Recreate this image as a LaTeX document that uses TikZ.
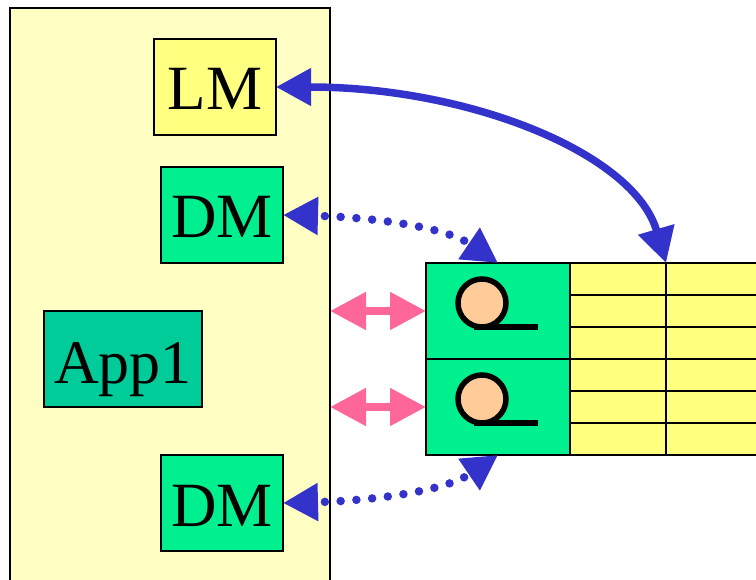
\documentclass[tikz,border=0pt]{standalone}
\usepackage{fontspec}
\setmainfont{Liberation Serif}
\usepackage{xcolor}
\usetikzlibrary{arrows.meta}
\definecolor{panelyellow}{HTML}{FFFFC4}
\definecolor{cellyellow}{HTML}{FFFF80}
\definecolor{dmgreen}{HTML}{00F090}
\definecolor{appgreen}{HTML}{00CC99}
\definecolor{arrowblue}{HTML}{3333CC}
\definecolor{arrowpink}{HTML}{FF6699}
\definecolor{spoolfill}{HTML}{FFCC99}
\tikzset{
	box/.style={draw=black, line width=1.5pt, inner sep=0pt, outer sep=0pt, text height=46pt, text depth=0pt, font=\fontsize{63}{63}\selectfont},
	managerbox/.style={box, minimum width=122pt, minimum height=96pt},
	cellbox/.style={box, fill=dmgreen, minimum width=144pt, minimum height=96pt},
	gridbox/.style={box, fill=cellyellow, minimum width=96pt, minimum height=192pt},
	bluetips/.style={{Triangle[length=35pt,width=36pt]}-{Triangle[length=35pt,width=36pt]}, arrowblue},
	dotlink/.style={bluetips, line width=8.5pt, line cap=round, dash pattern=on 0pt off 15.8pt, dash phase=6.8pt},
	solidlink/.style={bluetips, line width=7.5pt},
	pinklink/.style={{Triangle[length=36pt,width=36pt]}-{Triangle[length=36pt,width=36pt]}, arrowpink, line width=8pt},
	spool/.style={draw=black, line width=5.5pt, fill=spoolfill, outer sep=0pt},
}
\begin{document}
\begin{tikzpicture}[x=1pt, y=-1pt]
	\clip (0,0) rectangle (756,580);
	\node[box, fill=panelyellow, minimum width=320pt, minimum height=620pt] (panel) at (170,318) {};
	\node[managerbox, fill=cellyellow] (lm) at (215,87) {LM};
	\node[managerbox, fill=dmgreen] (dmtop) at (222,215) {DM};
	\node[box, fill=appgreen, minimum width=158pt, minimum height=96pt, text height=50pt, font=\fontsize{62}{62}\selectfont] (appone) at (123,359) {App1\hspace{4pt}};
	\node[managerbox, fill=dmgreen] (dmbot) at (222,503) {DM};
	% table on the right
	\node[cellbox] (cellone) at (498,311) {};
	\node[cellbox] (celltwo) at (498,407) {};
	\node[gridbox] (gridone) at (618,359) {};
	\node[gridbox, minimum width=110pt] (gridtwo) at (721,359) {};
	\foreach \y in {295,327,359,391,423} {
		\draw[line width=1.5pt] (570,\y) -- (770,\y);
	}
	\foreach \y/\name in {303/spoolone, 399/spooltwo} {
		\node[circle, spool, minimum size=48pt, inner sep=0pt] (\name) at (482,\y) {};
		\draw[line width=5.5pt] (\name.south) ++(-8,0) -- ++(64,0);
	}
	% links
	\draw[solidlink] (lm.east) .. controls +(193,0) and +(-32,-110) .. (gridone.north east);
	\draw[dotlink] (dmtop.east) .. controls +(80,2) and +(-56,-38) .. (cellone.north);
	\draw[dotlink] (dmbot.east) .. controls +(80,-2) and +(-56,38) .. (celltwo.south);
	\draw[pinklink] (panel.east |- cellone.west) -- (cellone.west);
	\draw[pinklink] (panel.east |- celltwo.west) -- (celltwo.west);
\end{tikzpicture}
\end{document}
